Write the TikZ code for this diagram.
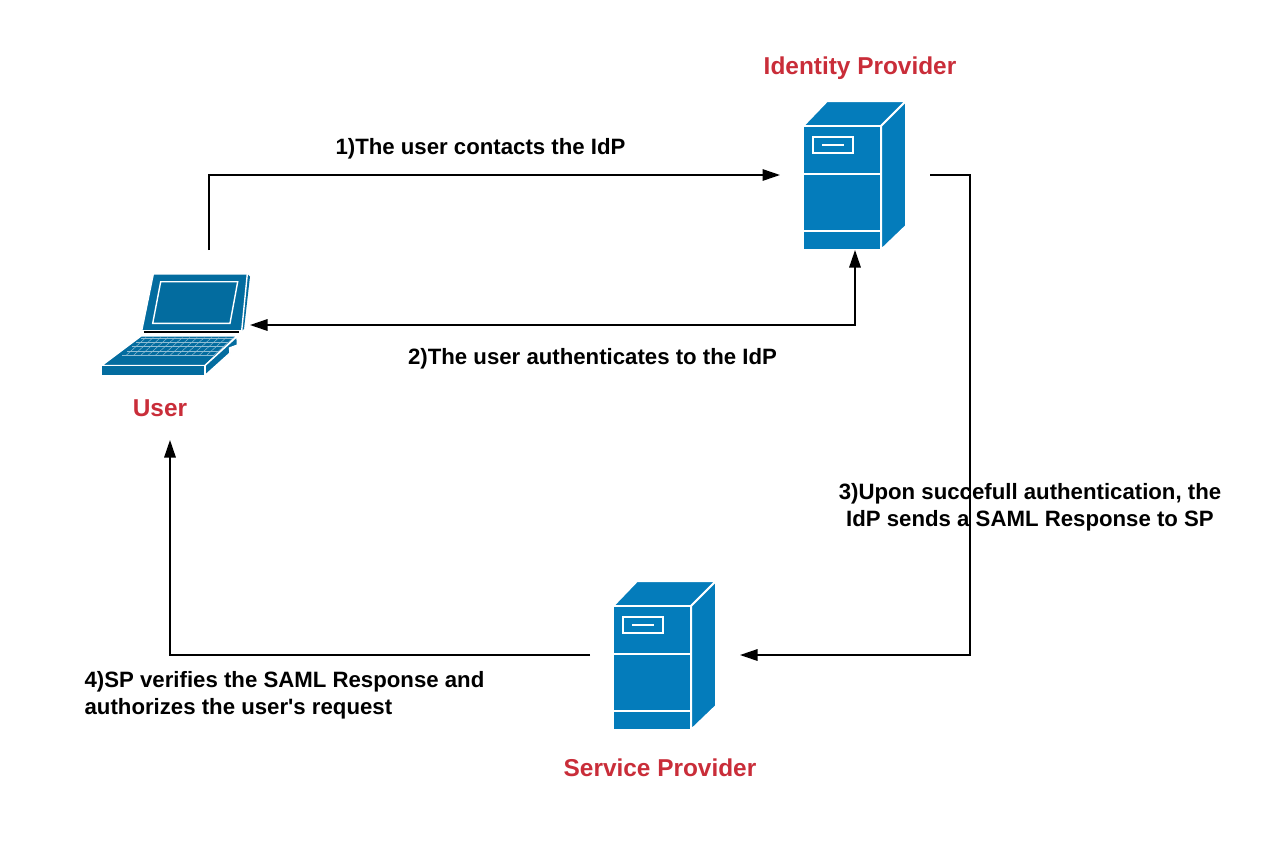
\documentclass[tikz,border=0pt]{standalone}
\usepackage{fontspec}
\newfontfamily\lsans{Liberation Sans}
\usetikzlibrary{arrows.meta}
\definecolor{srvblue}{HTML}{047CBB}
\definecolor{lapblue}{HTML}{036C9F}
\definecolor{lblred}{HTML}{C92D39}
\tikzset{
  x=0.75pt,y=-0.75pt,
  tip/.tip={Triangle[length=17.5pt*0.75,width=11.5pt*0.75]},
  conn/.style={draw=black,line width=1.5pt*0.75,-{tip}},
  conntwo/.style={draw=black,line width=1.5pt*0.75,{tip}-{tip}},
  iconbox/.style={minimum width=112.5pt,minimum height=112.5pt,inner sep=0pt,outer sep=0pt},
  titlelabel/.style={font=\lsans\fontsize{18.3}{22}\selectfont\bfseries,text=lblred,inner sep=0pt},
  steplabel/.style={font=\lsans\fontsize{16.65}{20}\selectfont\bfseries,text=black,inner sep=0pt,align=center},
  steplabelleft/.style={font=\lsans\fontsize{16.65}{20}\selectfont\bfseries,text=black,inner sep=0pt,align=left},
  srvface/.style={fill=srvblue,draw=white,line width=2pt*0.75,line join=miter},
  lapface/.style={fill=lapblue,draw=white,line width=1.4pt*0.75},
  keyline/.style={draw=white!55!lapblue,line width=0.35pt},
  server/.pic={
    \path[srvface] (-52,-49) -- (-28,-74) -- (51,-74) -- (26,-49) -- cycle;
    \path[srvface] (26,-49) -- (51,-74) -- (51,51) -- (26,75) -- cycle;
    \path[srvface] (-52,-49) rectangle (26,75);
    \draw[white,line width=2pt*0.75] (-52,-1) -- (26,-1);
    \draw[white,line width=2pt*0.75] (-52,56) -- (26,56);
    \draw[white,line width=2pt*0.75] (-42,-38) rectangle (-2,-22);
    \draw[white,line width=2pt*0.75] (-33,-30) -- (-11,-30);
  }
}
\begin{document}
\begin{tikzpicture}
\useasboundingbox (0,0) rectangle (1280,840);
% server icons
\pic at (855,175) {server};
\pic at (665,655) {server};
% laptop
\fill[lapblue] (247.3,274) -- (250,276.5) -- (244,329) -- (241.7,330.7) -- cycle;
\path[lapface] (153.3,274) -- (247.3,274) -- (241.7,330.7) -- (141.7,330.7) -- cycle;
\path[lapface] (160.7,281.7) -- (237.7,281.7) -- (230,323.3) -- (152.7,323.3) -- cycle;
\draw[black,line width=1.4pt] (143.5,332.3) -- (239,332.3);
\path[lapface] (141,336) -- (237,336) -- (205,365.5) -- (101.7,365.5) -- cycle;
\path[lapface] (205,365.5) -- (237,336.5) -- (237.5,345) -- (229.5,348) -- (230,353) -- (205,375.5) -- cycle;
\path[lapface] (101.7,365.5) rectangle (205,375.5);
\foreach \t in {0,0.25,0.5,0.75,1}{
  \draw[keyline] ({141+(122-141)*\t},{338+(355-338)*\t}) -- ({233+(214-233)*\t},{338+(355-338)*\t});
}
\foreach \s in {0,...,12}{
  \draw[keyline] ({146+\s*7.3},337.5) -- ({126+\s*7.3},355.5);
}
% invisible anchors for the connectors
\node[iconbox] (idp) at (855,175) {};
\node[iconbox] (sp) at (665,655) {};
\node[iconbox] (user) at (175,325) {};
\coordinate (userout) at (209,250);
\coordinate (userin) at (170,440);
% labels
\node[titlelabel] (idplabel) at (860,68) {Identity Provider};
\node[titlelabel] (splabel) at (660,768) {Service Provider};
\node[titlelabel] (userlabel) at (160,408) {User};
\node[steplabel] (s1) at (480.5,149) {1)The user contacts the IdP};
\node[steplabel] (s2) at (592.5,359) {2)The user authenticates to the IdP};
\node[steplabel] (s3) at (1030,507) {3)Upon succefull authentication, the\\IdP sends a SAML Response to SP};
\node[steplabelleft] (s4) at (284.5,695) {4)SP verifies the SAML Response and\\authorizes the user's request};
% connectors
\draw[conn] (userout) |- (idp.west);
\draw[conn] (idp.east) -- (970,175) |- (sp.east);
\draw[conntwo] (idp.south) |- (user.east);
\draw[conn] (sp.west) -| (userin);
\end{tikzpicture}
\end{document}
